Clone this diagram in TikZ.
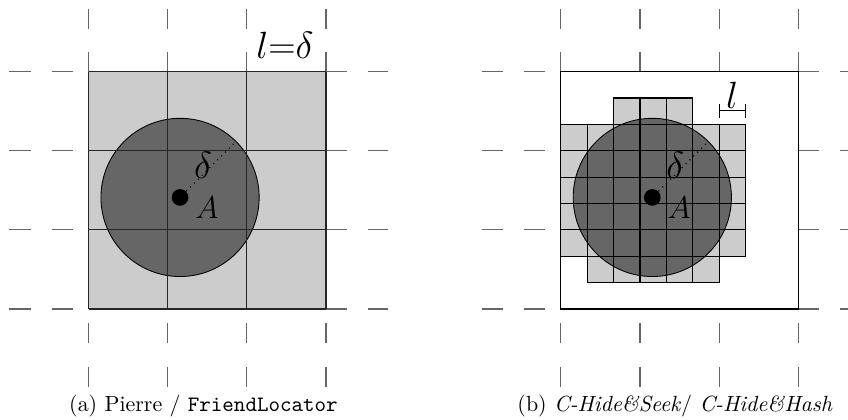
\documentclass[tikz,border=0pt]{standalone}
\usepackage{fontspec}
\usetikzlibrary{arrows.meta}

\begin{document}
\begin{tikzpicture}[scale=1.2668]
\tikzset{grd/.style={line width=0.5pt,black!85},
 dsh/.style={line width=0.5pt,black!60},
 lbl/.style={font=\fontsize{14.4}{17}\selectfont,inner sep=0pt},
 biglbl/.style={font=\fontsize{17.28}{20}\selectfont,inner sep=0pt},
 pt/.style={circle,fill,inner sep=0pt,minimum size=7.6pt},
 rad/.style={dotted,line width=0.5pt},
 subcap/.style={inner sep=0pt,anchor=base}}
\useasboundingbox (-1.121,-1.391) rectangle (9.599,3.906);

% broken grid lines round both squares
\foreach \ox in {0,5.97} {
  \foreach \k in {0,1,2,3} {
    \draw[dsh] (\ox-1.004,\k) -- (\ox-0.733,\k) (\ox-0.468,\k) -- (\ox-0.202,\k);
    \draw[dsh] (\ox+3,\k) -- (\ox+3.26,\k) (\ox+3.53,\k) -- (\ox+3.78,\k);
    \draw[dsh] (\ox+\k,3) -- (\ox+\k,3.25) (\ox+\k,3.54) -- (\ox+\k,3.79);
    \draw[dsh] (\ox+\k,-0.177) -- (\ox+\k,-0.43) (\ox+\k,-0.733) -- (\ox+\k,-0.986);
  }
}

% (a) one cell per delta
\fill[black!20] (0,0) rectangle (3,3);
\coordinate (cA) at (1.155,1.41);
\draw[fill=black!60] (cA) circle (1);
\draw[grd] (0,0) grid (3,3);
\node[pt] (dA) at (cA) {};
\coordinate (rA) at ([shift={(45:1)}]cA);
\draw[rad] (dA) -- (rA);
\node[biglbl] (deltaA) at (1.445,1.82) {$\delta$};
\node[lbl] (nameA) at (1.495,1.277) {$A$};
\node[biglbl] (sizeA) at (2.482,3.337) {$l{=}\delta$};
\node[subcap] (capA) at (1.451,-1.298) {(a) Pierre / \texttt{FriendLocator}};

% (b) fine cells
\begin{scope}[shift={(5.97,0)}]
\foreach \r/\a/\b in {7/2/4,6/0/6,5/0/6,4/0/6,3/0/6,2/0/6,1/1/5}
  \foreach \c in {\a,...,\b}
    \fill[black!20] (\c/3,\r/3) rectangle ++(1/3,1/3);
\coordinate (cB) at (1.155,1.41);
\draw[fill=black!60] (cB) circle (1);
\foreach \r/\a/\b in {7/2/4,6/0/6,5/0/6,4/0/6,3/0/6,2/0/6,1/1/5}
  \foreach \c in {\a,...,\b}
    \draw[line width=0.5pt] (\c/3,\r/3) rectangle ++(1/3,1/3);
\draw[line width=0.5pt] (0,0) rectangle (3,3);
\node[pt] (dB) at (cB) {};
\coordinate (rB) at ([shift={(45:1)}]cB);
\draw[rad] (dB) -- (rB);
\node[biglbl] (deltaB) at (1.445,1.82) {$\delta$};
\node[lbl] (nameB) at (1.495,1.277) {$A$};
\coordinate (lb1) at (2,2.507);
\coordinate (lb2) at (7/3,2.507);
\draw[{Bar[width=6.5pt]}-{Bar[width=6.5pt]}] (lb1) -- (lb2);
\node[biglbl] (sizeB) at (2.162,2.705) {$l$};
\end{scope}
\node[subcap] (capB) at (7.412,-1.298) {(b) \textit{C-Hide\&Seek}/ \textit{C-Hide\&Hash}};
\end{tikzpicture}
\end{document}
